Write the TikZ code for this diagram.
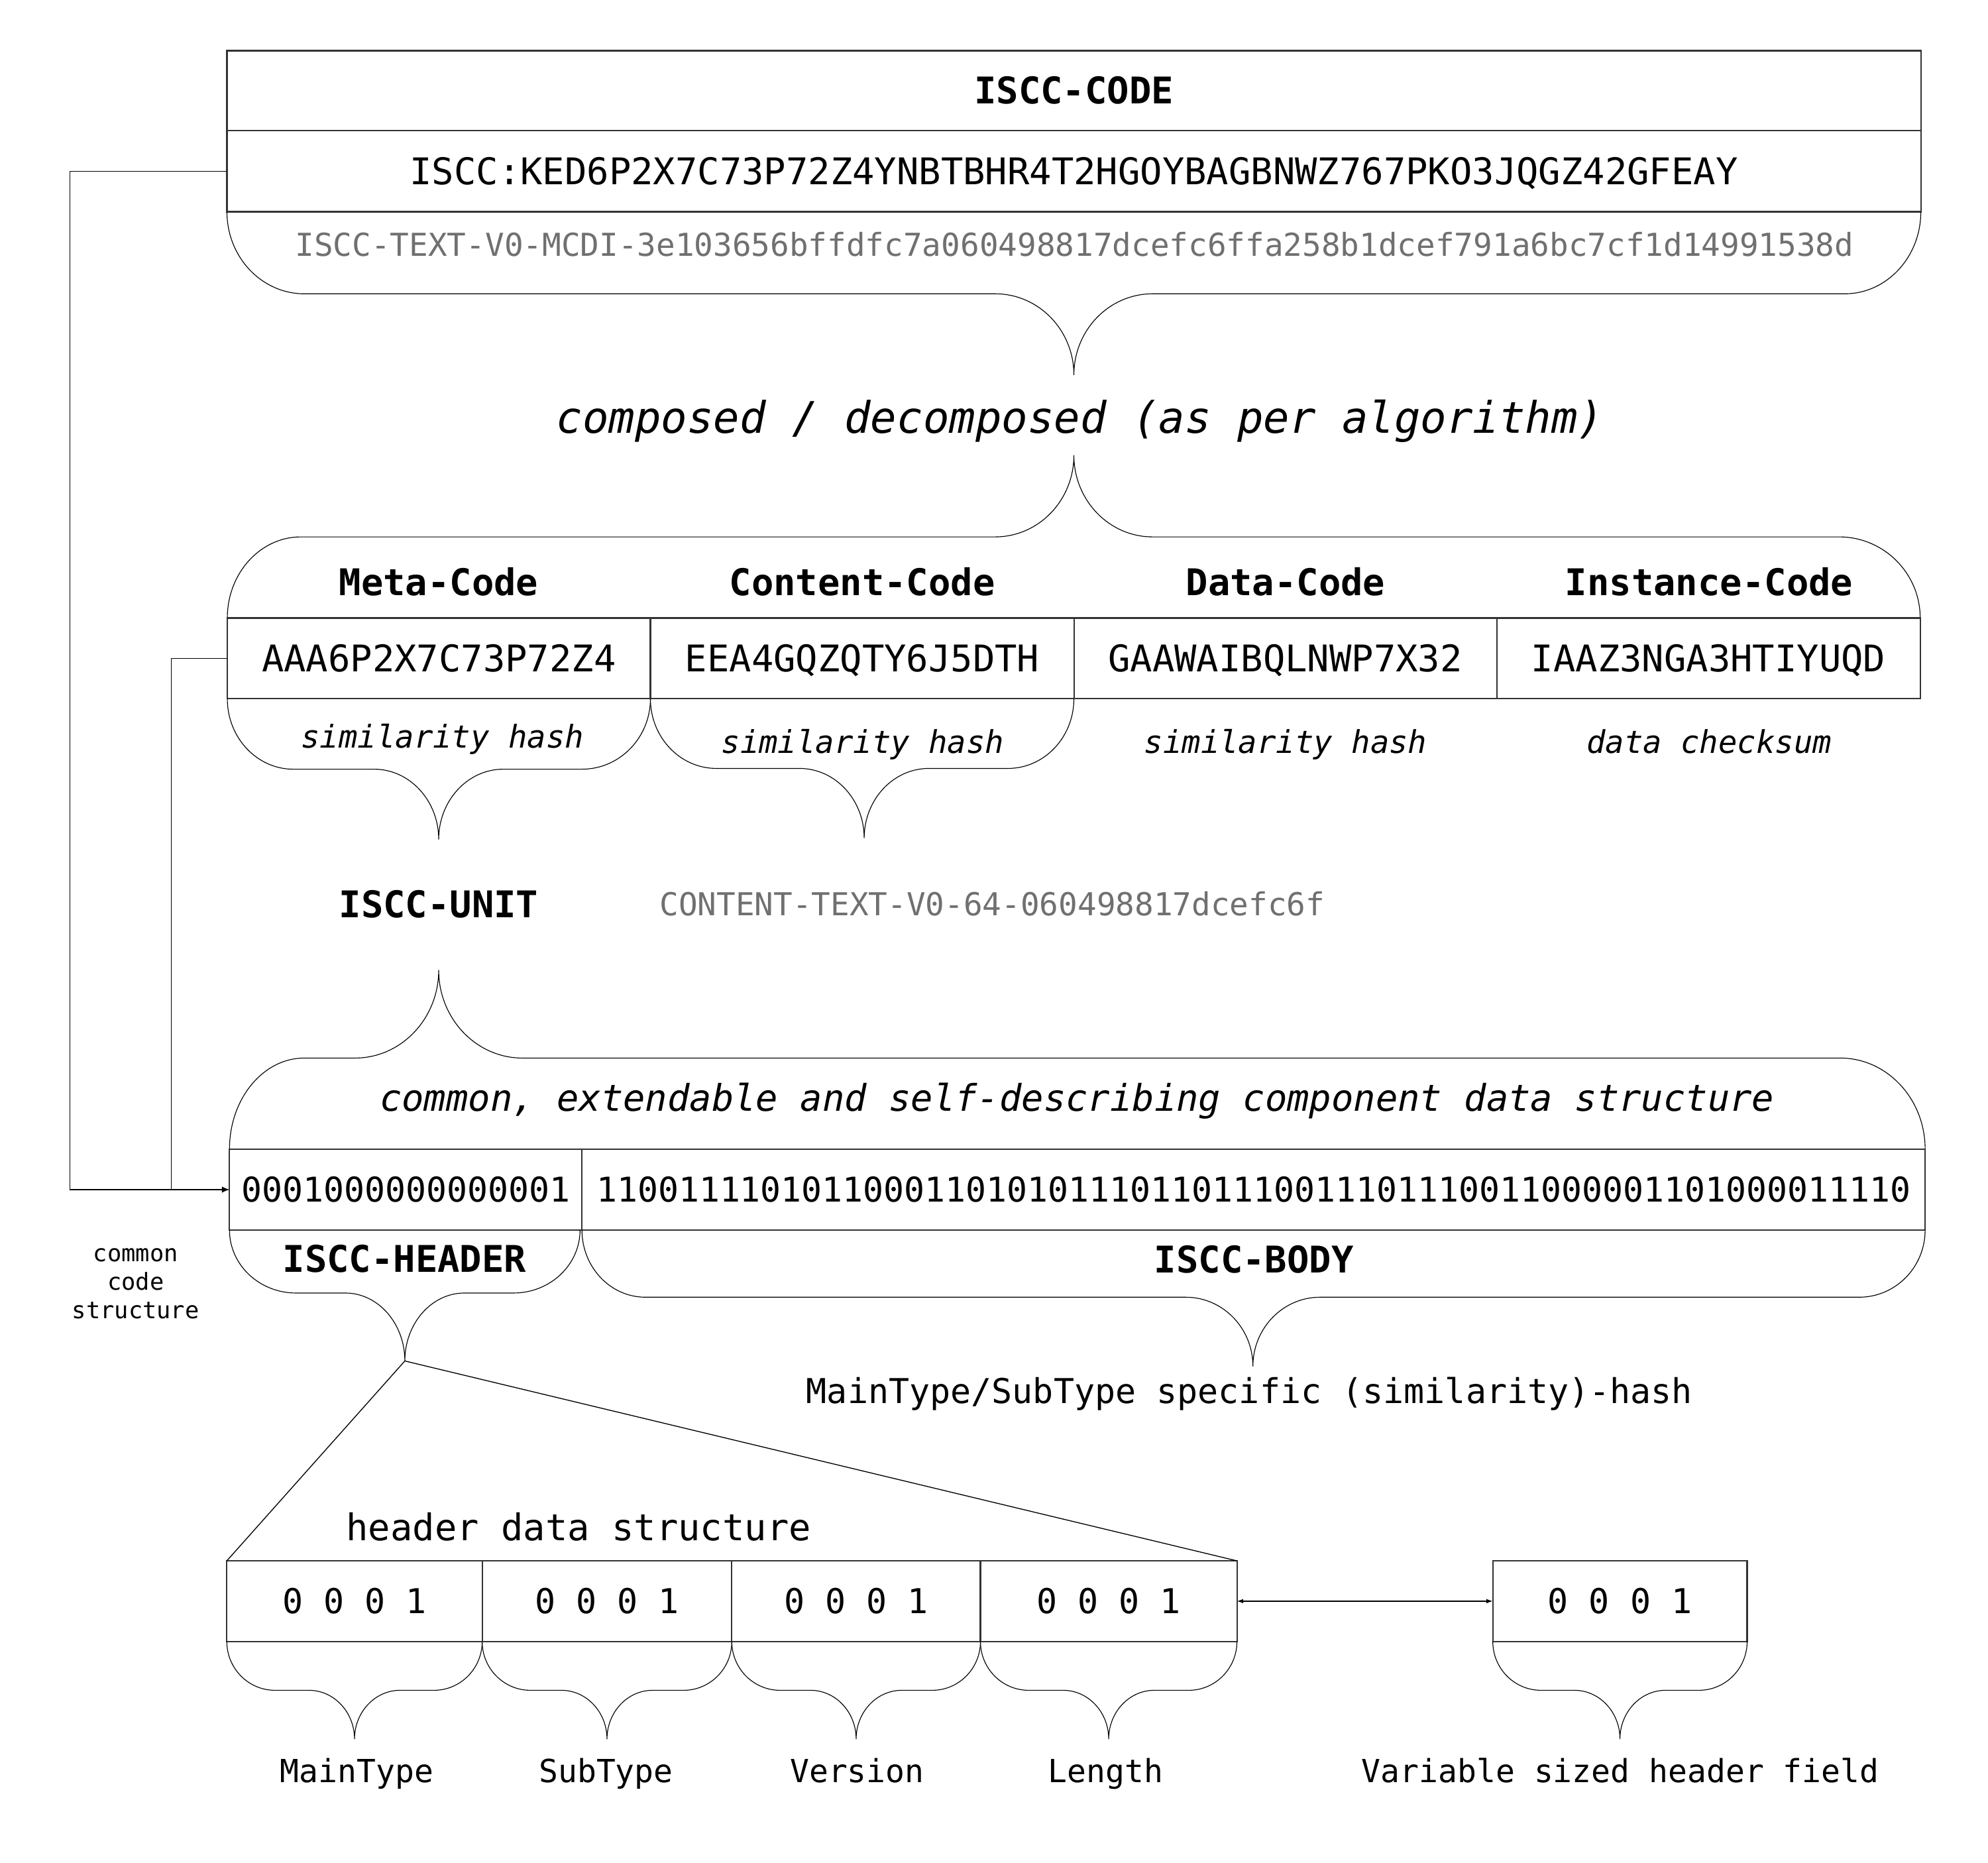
\documentclass[tikz,border=0pt]{standalone}
\usepackage{fontspec}
\setmainfont{DejaVu Sans Mono}[BoldFont={DejaVu Sans Mono Bold},ItalicFont={DejaVu Sans Mono Oblique},BoldItalicFont={DejaVu Sans Mono Bold Oblique}]
\usetikzlibrary{arrows.meta}
\definecolor{hashgray}{HTML}{707070}
% curly brace: xL, xR, xm, y0 (ends), y1 (flat), y2 (tip), rL, rR, c
\newcommand\brc[9]{%
  \draw[brace] (#1,#4) .. controls (#1,{#4+0.552*(#5-#4)}) and ({#1+0.448*#7},#5) .. ({#1+#7},#5)
   -- ({#3-#9},#5) .. controls ({#3-0.448*#9},#5) and (#3,{#5+0.448*(#6-#5)}) .. (#3,#6)
   .. controls (#3,{#5+0.448*(#6-#5)}) and ({#3+0.448*#9},#5) .. ({#3+#9},#5)
   -- ({#2-#8},#5) .. controls ({#2-0.448*#8},#5) and (#2,{#4+0.552*(#5-#4)}) .. (#2,#4);}
\begin{document}
\begin{tikzpicture}[x=1pt,y=-1pt,
  cell/.style={draw=black!80, line width=1.1pt, inner sep=0pt, outer sep=0pt, anchor=center},
  brace/.style={draw=black, line width=0.6pt},
  conn/.style={draw=black, line width=0.7pt},
  txt/.style={inner sep=0pt, outer sep=0pt, anchor=base},
  fA/.style={font=\fontsize{29}{34}\selectfont, text height=21.1pt, text depth=0pt},
  fAb/.style={font=\fontsize{29}{34}\selectfont\bfseries},
  fAr/.style={font=\fontsize{29}{34}\selectfont},
  fAi/.style={font=\fontsize{29}{34}\selectfont\itshape},
  fC/.style={font=\fontsize{34.3}{40}\selectfont\itshape},
  fG/.style={font=\fontsize{24.9}{30}\selectfont, text=hashgray},
  fGi/.style={font=\fontsize{24.7}{30}\selectfont\itshape},
  fL/.style={font=\fontsize{25.1}{30}\selectfont},
  fB/.style={font=\fontsize{26.9}{32}\selectfont, text height=19.6pt, text depth=0pt},
  fM/.style={font=\fontsize{27}{32}\selectfont},
  fN/.style={font=\fontsize{27}{32}\selectfont, text height=19.7pt, text depth=0pt},
  fS/.style={font=\fontsize{18.5}{22}\selectfont}
]
\fill[white] (0,0) rectangle (1568,1469);
\useasboundingbox (0,0) rectangle (1568,1469);

% ---------- top ISCC-CODE box ----------
\node[cell, minimum width=1336pt, minimum height=63pt, font=\fontsize{29}{34}\selectfont\bfseries, text height=21.1pt, text depth=0pt] (title) at (847,71.5) {ISCC-CODE};
\node[cell, fA, minimum width=1336pt, minimum height=64pt] (code) at (847,135) {ISCC:KED6P2X7C73P72Z4YNBTBHR4T2HGOYBAGBNWZ767PKO3JQGZ42GFEAY};
\node[txt, fG] (hash) at (847.5,202) {ISCC-TEXT-V0-MCDI-3e103656bffdfc7a060498817dcefc6ffa258b1dcef791a6bc7cf1d14991538d};
\brc{179}{1515}{847}{167}{231.7}{295.7}{61}{60}{62}

\node[txt, fC] (composed) at (852,341.5) {composed / decomposed (as per algorithm)};

% ---------- four units ----------
\brc{179.3}{1514.5}{847}{487.4}{423.4}{359}{58}{64}{62}
\node[txt, fAb] (hmeta) at (346,469.5) {Meta-Code};
\node[txt, fAb] (hcont) at (680,469.5) {Content-Code};
\node[txt, fAb] (hdata) at (1014,469.5) {Data-Code};
\node[txt, fAb] (hinst) at (1348,469.5) {Instance-Code};
\node[cell, fA, minimum width=333.7pt, minimum height=63.6pt] (meta) at (346.15,519.2) {AAA6P2X7C73P72Z4};
\node[cell, fA, minimum width=334pt, minimum height=63.6pt] (cont) at (680,519.2) {EEA4GQZQTY6J5DTH};
\node[cell, fA, minimum width=333.5pt, minimum height=63.6pt] (data) at (1013.75,519.2) {GAAWAIBQLNWP7X32};
\node[cell, fA, minimum width=334pt, minimum height=63.6pt] (inst) at (1347.5,519.2) {IAAZ3NGA3HTIYUQD};

\brc{179.3}{513}{346}{551}{606.6}{662}{52}{54}{51}
\brc{513}{847}{681.6}{551}{606}{661}{52}{52}{51}
\node[txt, fGi] (sim1) at (349,590) {similarity hash};
\node[txt, fGi] (sim2) at (680.5,594) {similarity hash};
\node[txt, fGi] (sim3) at (1014,594) {similarity hash};
\node[txt, fGi] (chk) at (1348,594) {data checksum};

\node[txt, fAb] (unit) at (346,723.5) {ISCC-UNIT};
\node[txt, fG] (ctext) at (782.6,722) {CONTENT-TEXT-V0-64-060498817dcefc6f};

% ---------- header / body ----------
\brc{181}{1518.4}{346}{906.3}{834.4}{765}{59}{67}{66}
\node[txt, fAi] (common) at (849.5,876) {common, extendable and self-describing component data structure};
\node[cell, fB, minimum width=278pt, minimum height=63.7pt] (hdr) at (320,938.15) {0001000000000001};
\node[cell, fB, minimum width=1059.4pt, minimum height=63.7pt] (body) at (988.7,938.15) {1100111101011000110101011101101110011101110011000001101000011110};

\brc{181}{457.5}{319.3}{970}{1019.7}{1073.3}{52.5}{52.5}{47}
\brc{459}{1518.4}{988.2}{970}{1023}{1077.5}{50}{52}{53}
\node[txt, fAb] (lhdr) at (319,1003.5) {ISCC-HEADER};
\node[txt, fAb] (lbody) at (989,1004) {ISCC-BODY};
\node[txt, fM] (spec) at (985.5,1106.6) {MainType/SubType specific (similarity)-hash};

% ---------- connectors on the left ----------
\coordinate (k1) at (55,135);
\coordinate (k2) at (135,519.2);
\draw[conn,-{Latex[length=6pt,width=5pt]}] (code.west) -- (k1) |- (hdr.west);
\draw[conn] (meta.west) -- (k2) -- (k2 |- hdr.west);
\node[txt, fS] (cc1) at (107,995) {common};
\node[txt, fS] (cc2) at (107,1017.4) {code};
\node[txt, fS] (cc3) at (107,1039.8) {structure};

% ---------- header data structure ----------
\node[txt, fAr] (hds) at (456.4,1215) {header data structure};
\node[cell, fN, minimum width=201.4pt, minimum height=63.6pt] (mt) at (279.6,1262.7) {0 0 0 1};
\node[cell, fN, minimum width=196.9pt, minimum height=63.6pt] (st) at (478.75,1262.7) {0 0 0 1};
\node[cell, fN, minimum width=196.1pt, minimum height=63.6pt] (ver) at (675.25,1262.7) {0 0 0 1};
\node[cell, fN, minimum width=202.3pt, minimum height=63.6pt] (len) at (874.45,1262.7) {0 0 0 1};
\node[cell, fN, minimum width=200.6pt, minimum height=63.6pt] (var) at (1277.7,1262.7) {0 0 0 1};

\coordinate (htip) at (319.3,1073.3);
\draw[conn] (mt.north west) -- (htip) -- (len.north east);
\draw[conn,{Latex[length=5pt,width=3.5pt]}-{Latex[length=5pt,width=3.5pt]}] (len.east) -- (var.west);

\brc{178.9}{380.3}{279.6}{1294.5}{1333}{1371.5}{38}{38}{36}
\brc{380.3}{577.2}{478.75}{1294.5}{1333}{1371.5}{38}{38}{36}
\brc{577.2}{773.3}{675.25}{1294.5}{1333}{1371.5}{38}{38}{36}
\brc{773.3}{975.6}{874.45}{1294.5}{1333}{1371.5}{38}{38}{36}
\brc{1177.4}{1378}{1277.7}{1294.5}{1333}{1371.5}{38}{38}{36}

\node[txt, fL] (lmt) at (281.5,1405.5) {MainType};
\node[txt, fL] (lst) at (478,1405.5) {SubType};
\node[txt, fL] (lver) at (676,1405.5) {Version};
\node[txt, fL] (llen) at (872,1405.5) {Length};
\node[txt, fL] (lvar) at (1278,1405.5) {Variable sized header field};
\end{tikzpicture}
\end{document}
